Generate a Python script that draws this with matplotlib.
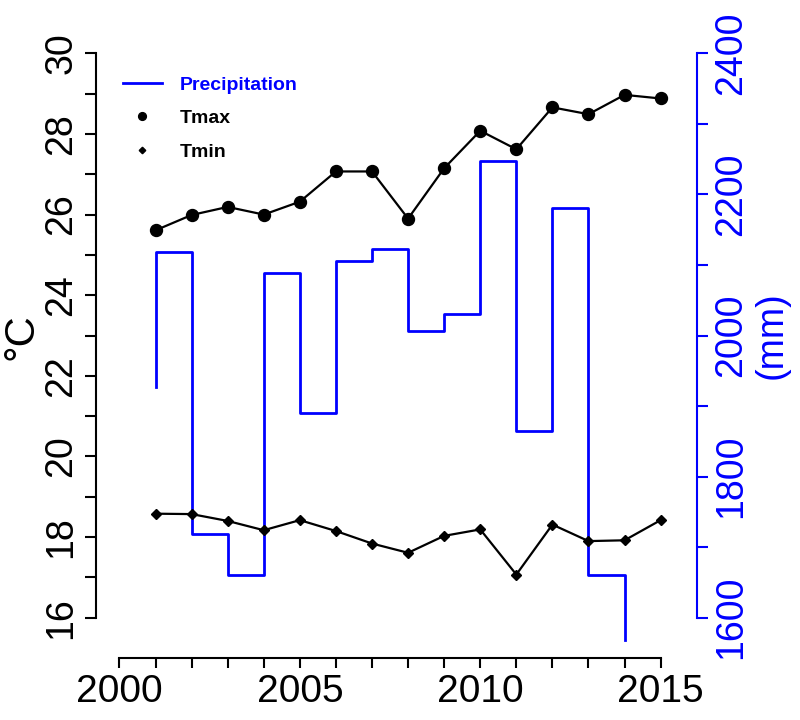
import matplotlib
matplotlib.use("Agg")
import matplotlib.pyplot as plt
from matplotlib.lines import Line2D
from matplotlib.ticker import FixedLocator, FuncFormatter

# data
years = [2001, 2002, 2003, 2004, 2005, 2006, 2007, 2008,
         2009, 2010, 2011, 2012, 2013, 2014, 2015]
tmax = [25.61, 25.99, 26.19, 26.00, 26.32, 27.07, 27.07, 25.90,
        27.15, 28.08, 27.62, 28.66, 28.49, 28.97, 28.88]
tmin = [18.58, 18.57, 18.40, 18.17, 18.42, 18.15, 17.84, 17.61,
        18.03, 18.19, 17.07, 18.31, 17.90, 17.92, 18.42]

# precipitation stair line (drawn with vertical-first steps)
prec_x = [2001, 2002, 2003, 2004, 2005, 2006, 2007, 2008,
          2009, 2010, 2011, 2012, 2013, 2014, 2014]
prec_mm = [1927, 2118, 1718, 1661, 2088, 1890, 2106, 2122,
           2006, 2031, 2248, 1865, 2181, 1660, 1568]

blue = "#0000ff"
plt.rcParams["font.family"] = ["Liberation Sans", "DejaVu Sans"]

T_LIM = (15.007, 30.5)


def temp_to_mm(t):
    return 1600 + (t - 16) * 800 / 14


fig = plt.figure(figsize=(8, 7.2), dpi=100)
ax = fig.add_axes([0.12, 0.0865, 0.7509, 0.8674])
ax2 = ax.twinx()

ax2.step(prec_x, prec_mm, where="pre", color=blue, lw=2.0, zorder=1)
ax.plot(years, tmax, color="black", lw=1.6, marker="o", ms=8.6, zorder=3)
ax.plot(years, tmin, color="black", lw=1.6, marker="D", ms=5.0, zorder=3)

ax.set_zorder(ax2.get_zorder() + 1)
ax.patch.set_visible(False)

ax.set_xlim(1999.35, 2016.0)
ax.set_ylim(*T_LIM)
ax2.set_ylim(temp_to_mm(T_LIM[0]), temp_to_mm(T_LIM[1]))

# spines, R style
for side in ["top", "right"]:
    ax.spines[side].set_visible(False)
for side in ["top", "left", "bottom"]:
    ax2.spines[side].set_visible(False)
ax.spines["left"].set_bounds(16, 30)
ax.spines["bottom"].set_bounds(2000, 2015)
ax2.spines["right"].set_bounds(1600, 2400)
ax2.spines["right"].set_color(blue)
for sp in [ax.spines["left"], ax.spines["bottom"], ax2.spines["right"]]:
    sp.set_linewidth(1.5)

ax.xaxis.set_major_locator(FixedLocator(range(2000, 2016)))
ax.xaxis.set_major_formatter(FuncFormatter(lambda v, p: f"{int(v)}" if int(v) % 5 == 0 else ""))
ax.yaxis.set_major_locator(FixedLocator(range(16, 31)))
ax.yaxis.set_major_formatter(FuncFormatter(lambda v, p: f"{int(v)}" if int(v) % 2 == 0 else ""))
ax2.yaxis.set_major_locator(FixedLocator(range(1600, 2401, 100)))
ax2.yaxis.set_major_formatter(FuncFormatter(lambda v, p: f"{int(v)}" if int(v) % 200 == 0 else ""))

ax.tick_params(axis="x", length=7.5, width=1.5, labelsize=28, pad=4)
ax.tick_params(axis="y", length=8, width=1.5, labelsize=27, pad=4, labelrotation=90)
ax2.tick_params(axis="y", length=8, width=1.5, labelsize=27, pad=4, labelrotation=90,
                colors=blue)
for lab in ax.get_yticklabels() + ax2.get_yticklabels():
    lab.set_va("center")

fig.text(0.027, 1 - 337 / 720, "°C", rotation=90, fontsize=30, ha="center", va="center")
fig.text(0.964, 1 - 335 / 720, "(mm)", rotation=90, fontsize=27, color=blue,
         ha="center", va="center")

handles = [
    Line2D([], [], color=blue, lw=2.0),
    Line2D([], [], color="black", lw=0, marker="o", ms=5.6),
    Line2D([], [], color="black", lw=0, marker="D", ms=3.3),
]
leg = ax.legend(handles, ["Precipitation", "Tmax", "Tmin"], loc="upper left",
                bbox_to_anchor=(123 / 800, 1 - 76 / 720), bbox_transform=fig.transFigure,
                frameon=False, prop={"size": 14, "weight": "bold"},
                handlelength=2.0, handletextpad=0.9, labelspacing=0.82,
                borderpad=0, borderaxespad=0)
for txt, col in zip(leg.get_texts(), [blue, "black", "black"]):
    txt.set_color(col)

fig.savefig("out.png", dpi=100)
